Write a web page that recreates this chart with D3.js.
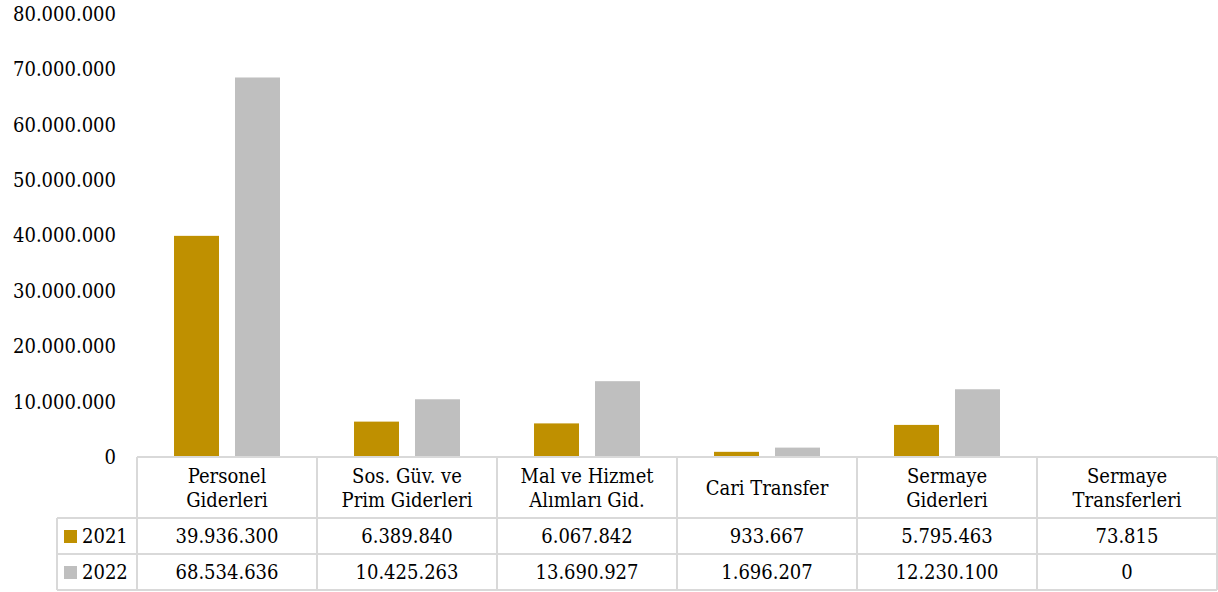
<!DOCTYPE html>
<html>
<head>
<meta charset="utf-8">
<script src="https://cdn.jsdelivr.net/npm/d3@7"></script>
<style>
  body { margin: 0; background: #fff; }
  svg { font-stretch: condensed; }
</style>
</head>
<body>
<script>
// chart data
var categories = [
  ["Personel", "Giderleri"],
  ["Sos. Güv. ve", "Prim Giderleri"],
  ["Mal ve Hizmet", "Alımları Gid."],
  ["Cari Transfer"],
  ["Sermaye", "Giderleri"],
  ["Sermaye", "Transferleri"]
];
var years = ["2021", "2022"];
var values2021 = [39936300, 6389840, 6067842, 933667, 5795463, 73815];
var values2022 = [68534636, 10425263, 13690927, 1696207, 12230100, 0];
var yTicks = [0, 10000000, 20000000, 30000000, 40000000, 50000000, 60000000, 70000000, 80000000];

var colors = { "2021": "#BF9000", "2022": "#BFBFBF" };
var gridColor = "#D9D9D9";
var serif = "'DejaVu Serif Condensed', 'DejaVu Serif', serif";
var fontSize = 20;

var svgWidth = 1218;
var svgHeight = 592;

var plotLeft = 137, plotRight = 1217;
var baseY = 457, topY = 14;
var headerBottom = 518, rowH = 36;
var legendLeft = 57;

var svg = d3.select("body")
  .append("svg")
  .attr("width", svgWidth)
  .attr("height", svgHeight)
  .attr("font-family", serif)
  .attr("font-size", fontSize);

var catIdx = d3.range(categories.length);

var x0 = d3.scaleBand()
  .domain(catIdx)
  .range([plotLeft, plotRight])
  .padding(0);

var x1 = d3.scaleBand()
  .domain(years)
  .range([0, x0.bandwidth()])
  .paddingInner(16 / 61)
  .paddingOuter(0.607);

var y = d3.scaleLinear()
  .domain([0, 80000000])
  .range([baseY, topY]);

var fmt = function(v) {
  return d3.format(",")(v).replace(/,/g, ".");
};

// y axis labels, no axis line
var yAxis = d3.axisLeft(y)
  .tickValues(yTicks)
  .tickFormat(fmt)
  .tickSize(0)
  .tickPadding(0);

var yg = svg.append("g")
  .attr("transform", "translate(116,0)")
  .call(yAxis)
  .attr("font-family", serif)
  .attr("font-size", fontSize);
yg.select(".domain").remove();
yg.selectAll("text").attr("fill", "#000");

// bars
var series = { "2021": values2021, "2022": values2022 };
years.forEach(function(yr) {
  svg.append("g")
    .selectAll("rect")
    .data(catIdx)
    .enter()
    .append("rect")
    .attr("x", function(i) { return x0(i) + x1(yr); })
    .attr("y", function(i) { return y(series[yr][i]); })
    .attr("width", x1.bandwidth())
    .attr("height", function(i) { return baseY - y(series[yr][i]); })
    .attr("fill", colors[yr]);
});

// data table under the chart
var grid = svg.append("g")
  .attr("stroke", gridColor)
  .attr("stroke-width", 2)
  .attr("fill", "none");

var tableBottom = headerBottom + rowH * years.length;

grid.append("line")
  .attr("x1", plotLeft).attr("x2", plotRight)
  .attr("y1", baseY).attr("y2", baseY);
d3.range(years.length + 1).forEach(function(r) {
  var yy = headerBottom + r * rowH;
  grid.append("line")
    .attr("x1", legendLeft).attr("x2", plotRight)
    .attr("y1", yy).attr("y2", yy);
});
catIdx.concat([categories.length]).forEach(function(i) {
  var xx = i < categories.length ? x0(i) : plotRight;
  grid.append("line")
    .attr("x1", xx).attr("x2", xx)
    .attr("y1", baseY).attr("y2", tableBottom);
});
grid.append("line")
  .attr("x1", legendLeft).attr("x2", legendLeft)
  .attr("y1", headerBottom).attr("y2", tableBottom);

// header labels
var header = svg.append("g")
  .attr("text-anchor", "middle");
catIdx.forEach(function(i) {
  var lines = categories[i];
  var cx = x0(i) + x0.bandwidth() / 2;
  var midY = (baseY + headerBottom) / 2;
  lines.forEach(function(line, k) {
    header.append("text")
      .attr("x", cx)
      .attr("y", midY + (k - (lines.length - 1) / 2) * 24)
      .attr("dy", "0.35em")
      .text(line);
  });
});

// value rows with legend keys
years.forEach(function(yr, r) {
  var cy = headerBottom + r * rowH + rowH / 2;
  svg.append("rect")
    .attr("x", 64).attr("y", cy - 6)
    .attr("width", 13).attr("height", 13)
    .attr("fill", colors[yr]);
  svg.append("text")
    .attr("x", 82).attr("y", cy)
    .attr("dy", "0.35em")
    .text(yr);
  svg.append("g")
    .selectAll("text")
    .data(catIdx)
    .enter()
    .append("text")
    .attr("x", function(i) { return x0(i) + x0.bandwidth() / 2; })
    .attr("y", cy)
    .attr("dy", "0.35em")
    .attr("text-anchor", "middle")
    .text(function(i) { return fmt(series[yr][i]); });
});
</script>
</body>
</html>
